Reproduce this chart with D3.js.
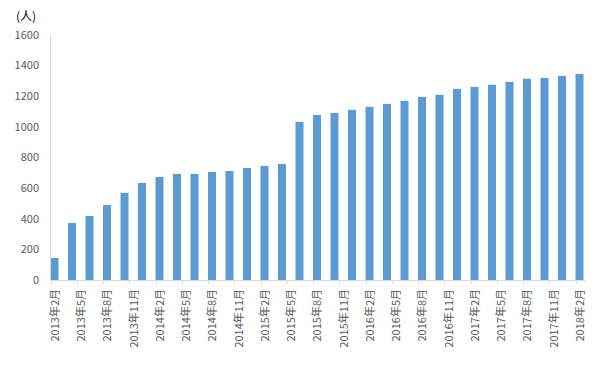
<!doctype html>
<html>
<head>
<meta charset="utf-8">
<style>
body { margin:0; background:#fff; }
svg text { font-family:"Noto Sans CJK SC", "Noto Sans", sans-serif; }
</style>
<script src="https://d3js.org/d3.v7.min.js"></script>
</head>
<body>
<script>

// bars every two months, 2013-02 .. 2018-02
var barMonths = ["2013-02","2013-04","2013-06","2013-08","2013-10","2013-12",
                 "2014-02","2014-04","2014-06","2014-08","2014-10","2014-12",
                 "2015-02","2015-04","2015-06","2015-08","2015-10","2015-12",
                 "2016-02","2016-04","2016-06","2016-08","2016-10","2016-12",
                 "2017-02","2017-04","2017-06","2017-08","2017-10","2017-12",
                 "2018-02"];
var values = [144, 372, 418, 490, 569, 634,
              673, 693, 693, 706, 712, 732,
              745, 758, 1033, 1078, 1091, 1111,
              1131, 1150, 1170, 1196, 1209, 1248,
              1261, 1275, 1294, 1314, 1320, 1333,
              1346];
// axis labels every three months
var tickMonths = ["2013-02","2013-05","2013-08","2013-11","2014-02","2014-05","2014-08",
                  "2014-11","2015-02","2015-05","2015-08","2015-11","2016-02","2016-05",
                  "2016-08","2016-11","2017-02","2017-05","2017-08","2017-11","2018-02"];
var yTicks = [0, 200, 400, 600, 800, 1000, 1200, 1400, 1600];
var unitLabel = "(人)";

var svgWidth = 599, svgHeight = 387;
var plotLeft = 50.5, plotRight = 575.5, plotTop = 35, plotBottom = 280;

function monthIndex(s) {
  var p = s.split("-");
  return (+p[0] - 2013) * 12 + (+p[1] - 2);
}
function monthLabel(s) {
  var p = s.split("-");
  return p[0] + "年" + (+p[1]) + "月";
}

var svg = d3.select("body").append("svg")
  .attr("width", svgWidth)
  .attr("height", svgHeight);

var x = d3.scaleLinear().domain([0, 60]).range([plotLeft, plotRight]);
var y = d3.scaleLinear().domain([0, 1600]).range([plotBottom, plotTop]);

var barW = 8;

// bars
svg.selectAll("rect.bar")
  .data(values)
  .enter()
  .append("rect")
  .attr("class", "bar")
  .attr("x", function(d, i) { return x(monthIndex(barMonths[i])); })
  .attr("y", function(d) { return y(d); })
  .attr("width", barW)
  .attr("height", function(d) { return y(0) - y(d); })
  .attr("fill", "#5b9bd5");

// y axis line
svg.append("line")
  .attr("x1", plotLeft).attr("x2", plotLeft)
  .attr("y1", y(1600)).attr("y2", y(0))
  .attr("stroke", "#d9d9d9").attr("stroke-width", 1);

// y labels
svg.selectAll("text.ylab")
  .data(yTicks)
  .enter()
  .append("text")
  .attr("class", "ylab")
  .attr("x", 39)
  .attr("y", function(d) { return y(d); })
  .attr("dy", "0.35em")
  .attr("text-anchor", "end")
  .attr("font-size", "11px")
  .attr("fill", "#595959")
  .text(function(d) { return d; });

// x axis line + ticks
svg.append("line")
  .attr("x1", plotLeft).attr("x2", x(60) + barW + 2)
  .attr("y1", plotBottom + 0.5).attr("y2", plotBottom + 0.5)
  .attr("stroke", "#d9d9d9").attr("stroke-width", 1);

svg.selectAll("line.xtick")
  .data(tickMonths)
  .enter()
  .append("line")
  .attr("class", "xtick")
  .attr("x1", function(d) { return Math.round(x(monthIndex(d))) + 0.5; })
  .attr("x2", function(d) { return Math.round(x(monthIndex(d))) + 0.5; })
  .attr("y1", plotBottom).attr("y2", plotBottom + 4)
  .attr("stroke", "#d9d9d9");

svg.selectAll("text.xlab")
  .data(tickMonths)
  .enter()
  .append("text")
  .attr("class", "xlab")
  .attr("transform", function(d) {
    return "translate(" + (x(monthIndex(d)) + 4.5) + "," + (plotBottom + 9) + ") rotate(-90)";
  })
  .attr("dy", "0.35em")
  .attr("text-anchor", "end")
  .attr("font-size", "11px")
  .attr("fill", "#595959")
  .text(monthLabel);

// unit label
svg.append("text")
  .attr("x", 16)
  .attr("y", 21)
  .attr("font-size", "12px")
  .attr("fill", "#000")
  .text(unitLabel);

</script>
</body>
</html>
